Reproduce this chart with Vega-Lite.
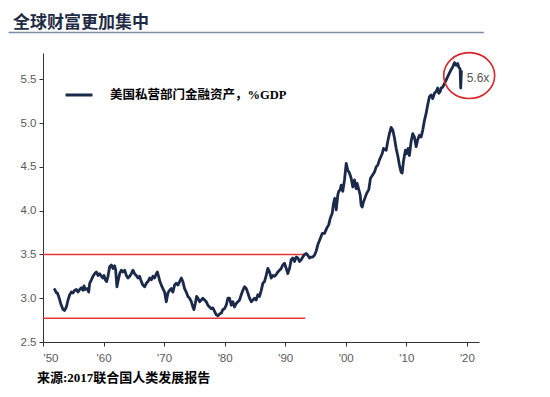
{
  "$schema": "https://vega.github.io/schema/vega-lite/v6.json",
  "width": 436,
  "height": 289,
  "autosize": {"type": "none"},
  "padding": {"left": 43, "top": 53, "right": 71, "bottom": 55},
  "background": "white",
  "title": {
    "text": "全球财富更加集中",
    "anchor": "start",
    "frame": "group",
    "dx": -30,
    "offset": 0,
    "font": "Noto Sans CJK SC",
    "fontSize": 17,
    "fontWeight": "bold",
    "color": "#1f2b45"
  },
  "config": {
    "view": {"stroke": null},
    "axis": {
      "grid": false,
      "title": null,
      "domainColor": "#333333",
      "tickColor": "#333333",
      "domainWidth": 1,
      "tickWidth": 1,
      "tickSize": 4,
      "labelFont": "Liberation Sans",
      "labelFontSize": 11.5,
      "labelColor": "#595959",
      "labelOverlap": false
    },
    "legend": {
      "orient": "none",
      "legendX": 21,
      "legendY": 27,
      "padding": 0,
      "symbolType": "stroke",
      "symbolStrokeWidth": 3,
      "symbolSize": 729,
      "labelOffset": 16,
      "labelFont": "Liberation Serif, Noto Sans CJK SC",
      "labelFontSize": 12.5,
      "labelFontWeight": "bold",
      "labelColor": "#000000",
      "labelLimit": 400,
      "title": null
    }
  },
  "layer": [
    {
      "data": {"values": [{"note": "title underline"}]},
      "mark": {"type": "rule", "color": "#7d8da5", "strokeWidth": 1.5},
      "encoding": {
        "x": {"datum": 1944.3, "type": "quantitative"},
        "x2": {"datum": 2022.8},
        "y": {"datum": 6.035, "type": "quantitative"}
      }
    },
    {
      "data": {"values": [
        {"level": 3.5, "start": 1950, "end": 1993.5},
        {"level": 2.77, "start": 1950, "end": 1993.3}
      ]},
      "mark": {"type": "rule", "color": "#e5383b", "strokeWidth": 1.5},
      "encoding": {
        "x": {"field": "start", "type": "quantitative"},
        "x2": {"field": "end"},
        "y": {"field": "level", "type": "quantitative"}
      }
    },
    {
      "data": {"values": [
        {"t":1951.93,"v":3.10},{"t":1952.21,"v":3.06},{"t":1952.38,"v":3.06},{"t":1952.59,"v":3.02},{"t":1952.92,"v":2.94},
        {"t":1953.30,"v":2.87},{"t":1953.58,"v":2.86},{"t":1953.86,"v":2.90},{"t":1954.13,"v":2.98},{"t":1954.41,"v":3.04},
        {"t":1954.69,"v":3.07},{"t":1954.95,"v":3.06},{"t":1955.23,"v":3.09},{"t":1955.51,"v":3.10},{"t":1955.78,"v":3.07},
        {"t":1956.06,"v":3.10},{"t":1956.34,"v":3.12},{"t":1956.60,"v":3.09},{"t":1956.77,"v":3.14},{"t":1957.00,"v":3.10},
        {"t":1957.33,"v":3.11},{"t":1957.54,"v":3.07},{"t":1957.71,"v":3.17},{"t":1957.99,"v":3.21},{"t":1958.25,"v":3.25},
        {"t":1958.53,"v":3.28},{"t":1958.81,"v":3.30},{"t":1959.08,"v":3.26},{"t":1959.36,"v":3.28},{"t":1959.64,"v":3.25},
        {"t":1959.90,"v":3.23},{"t":1960.07,"v":3.26},{"t":1960.30,"v":3.21},{"t":1960.51,"v":3.19},{"t":1960.73,"v":3.25},
        {"t":1961.01,"v":3.36},{"t":1961.29,"v":3.38},{"t":1961.55,"v":3.34},{"t":1961.83,"v":3.37},{"t":1962.00,"v":3.32},
        {"t":1962.21,"v":3.13},{"t":1962.38,"v":3.19},{"t":1962.66,"v":3.28},{"t":1962.94,"v":3.32},{"t":1963.20,"v":3.30},
        {"t":1963.48,"v":3.32},{"t":1963.76,"v":3.26},{"t":1964.03,"v":3.23},{"t":1964.31,"v":3.25},{"t":1964.59,"v":3.28},
        {"t":1964.85,"v":3.32},{"t":1965.13,"v":3.28},{"t":1965.41,"v":3.26},{"t":1965.68,"v":3.23},{"t":1965.96,"v":3.25},
        {"t":1966.24,"v":3.19},{"t":1966.50,"v":3.15},{"t":1966.78,"v":3.13},{"t":1967.06,"v":3.17},{"t":1967.33,"v":3.19},
        {"t":1967.61,"v":3.23},{"t":1967.89,"v":3.21},{"t":1968.15,"v":3.25},{"t":1968.43,"v":3.23},{"t":1968.71,"v":3.28},
        {"t":1968.88,"v":3.30},{"t":1969.09,"v":3.25},{"t":1969.31,"v":3.19},{"t":1969.54,"v":3.15},{"t":1969.80,"v":3.11},
        {"t":1970.08,"v":3.07},{"t":1970.36,"v":2.96},{"t":1970.63,"v":3.06},{"t":1970.91,"v":3.09},{"t":1971.19,"v":3.11},
        {"t":1971.45,"v":3.07},{"t":1971.73,"v":3.15},{"t":1972.01,"v":3.17},{"t":1972.28,"v":3.15},{"t":1972.56,"v":3.19},
        {"t":1972.84,"v":3.23},{"t":1973.10,"v":3.19},{"t":1973.38,"v":3.11},{"t":1973.66,"v":3.07},{"t":1973.93,"v":3.02},
        {"t":1974.21,"v":3.00},{"t":1974.49,"v":2.96},{"t":1974.75,"v":2.90},{"t":1974.92,"v":2.87},{"t":1975.15,"v":2.94},
        {"t":1975.36,"v":3.02},{"t":1975.58,"v":3.00},{"t":1975.86,"v":2.96},{"t":1976.14,"v":2.98},{"t":1976.40,"v":3.00},
        {"t":1976.68,"v":2.98},{"t":1976.96,"v":2.96},{"t":1977.23,"v":2.92},{"t":1977.51,"v":2.90},{"t":1977.79,"v":2.88},
        {"t":1978.05,"v":2.89},{"t":1978.33,"v":2.85},{"t":1978.61,"v":2.81},{"t":1978.88,"v":2.80},{"t":1979.16,"v":2.82},
        {"t":1979.44,"v":2.83},{"t":1979.70,"v":2.87},{"t":1979.98,"v":2.88},{"t":1980.26,"v":2.92},{"t":1980.53,"v":3.00},
        {"t":1980.81,"v":3.00},{"t":1981.09,"v":2.92},{"t":1981.35,"v":2.96},{"t":1981.63,"v":2.90},{"t":1981.91,"v":2.94},
        {"t":1982.18,"v":2.96},{"t":1982.46,"v":2.98},{"t":1982.74,"v":3.04},{"t":1983.00,"v":3.09},{"t":1983.28,"v":3.13},
        {"t":1983.56,"v":3.11},{"t":1983.83,"v":3.06},{"t":1984.11,"v":3.00},{"t":1984.39,"v":2.96},{"t":1984.65,"v":2.98},
        {"t":1984.93,"v":3.00},{"t":1985.21,"v":2.98},{"t":1985.48,"v":3.04},{"t":1985.76,"v":3.02},{"t":1986.04,"v":3.09},
        {"t":1986.30,"v":3.17},{"t":1986.58,"v":3.19},{"t":1986.86,"v":3.26},{"t":1987.13,"v":3.34},{"t":1987.41,"v":3.30},
        {"t":1987.69,"v":3.23},{"t":1987.95,"v":3.26},{"t":1988.23,"v":3.25},{"t":1988.51,"v":3.27},{"t":1988.78,"v":3.30},
        {"t":1989.06,"v":3.32},{"t":1989.34,"v":3.34},{"t":1989.60,"v":3.38},{"t":1989.88,"v":3.40},{"t":1990.17,"v":3.34},
        {"t":1990.43,"v":3.28},{"t":1990.71,"v":3.34},{"t":1990.99,"v":3.44},{"t":1991.25,"v":3.46},{"t":1991.53,"v":3.42},
        {"t":1991.82,"v":3.47},{"t":1992.08,"v":3.46},{"t":1992.36,"v":3.42},{"t":1992.64,"v":3.44},{"t":1992.90,"v":3.47},
        {"t":1993.18,"v":3.50},{"t":1993.47,"v":3.51},{"t":1993.73,"v":3.49},{"t":1994.01,"v":3.46},{"t":1994.29,"v":3.47},
        {"t":1994.55,"v":3.47},{"t":1994.83,"v":3.49},{"t":1995.12,"v":3.54},{"t":1995.38,"v":3.61},{"t":1995.66,"v":3.66},
        {"t":1996.11,"v":3.74},{"t":1996.49,"v":3.74},{"t":1996.86,"v":3.80},{"t":1997.19,"v":3.84},{"t":1997.43,"v":3.91},
        {"t":1997.76,"v":3.97},{"t":1997.97,"v":4.08},{"t":1998.18,"v":4.14},{"t":1998.42,"v":4.01},{"t":1998.68,"v":4.18},
        {"t":1998.84,"v":4.22},{"t":1999.08,"v":4.24},{"t":1999.24,"v":4.29},{"t":1999.50,"v":4.22},{"t":1999.79,"v":4.35},
        {"t":2000.07,"v":4.54},{"t":2000.33,"v":4.46},{"t":2000.61,"v":4.43},{"t":2000.89,"v":4.37},{"t":2001.16,"v":4.27},
        {"t":2001.44,"v":4.35},{"t":2001.72,"v":4.25},{"t":2001.88,"v":4.31},{"t":2002.15,"v":4.24},{"t":2002.38,"v":4.18},
        {"t":2002.54,"v":4.06},{"t":2002.71,"v":4.04},{"t":2002.92,"v":4.10},{"t":2003.25,"v":4.16},{"t":2003.47,"v":4.20},
        {"t":2003.80,"v":4.24},{"t":2004.08,"v":4.37},{"t":2004.46,"v":4.41},{"t":2004.74,"v":4.44},{"t":2005.02,"v":4.50},
        {"t":2005.28,"v":4.52},{"t":2005.56,"v":4.58},{"t":2006.01,"v":4.65},{"t":2006.22,"v":4.71},{"t":2006.67,"v":4.69},
        {"t":2006.93,"v":4.79},{"t":2007.21,"v":4.88},{"t":2007.49,"v":4.95},{"t":2007.76,"v":4.92},{"t":2008.04,"v":4.83},
        {"t":2008.32,"v":4.71},{"t":2008.58,"v":4.63},{"t":2008.86,"v":4.52},{"t":2009.14,"v":4.44},{"t":2009.31,"v":4.43},
        {"t":2009.52,"v":4.56},{"t":2009.69,"v":4.63},{"t":2009.85,"v":4.69},{"t":2010.07,"v":4.65},{"t":2010.30,"v":4.71},
        {"t":2010.51,"v":4.63},{"t":2010.79,"v":4.79},{"t":2011.06,"v":4.88},{"t":2011.34,"v":4.84},{"t":2011.62,"v":4.73},
        {"t":2011.88,"v":4.81},{"t":2012.16,"v":4.86},{"t":2012.44,"v":4.84},{"t":2012.71,"v":4.92},{"t":2012.99,"v":5.03},
        {"t":2013.27,"v":5.11},{"t":2013.53,"v":5.21},{"t":2013.81,"v":5.30},{"t":2014.09,"v":5.32},{"t":2014.36,"v":5.28},
        {"t":2014.64,"v":5.34},{"t":2014.92,"v":5.36},{"t":2015.18,"v":5.40},{"t":2015.35,"v":5.34},{"t":2015.58,"v":5.36},
        {"t":2015.74,"v":5.40},{"t":2016.01,"v":5.41},{"t":2016.29,"v":5.45},{"t":2016.57,"v":5.49},{"t":2016.83,"v":5.53},
        {"t":2017.11,"v":5.57},{"t":2017.39,"v":5.61},{"t":2017.66,"v":5.64},{"t":2017.94,"v":5.69},{"t":2018.22,"v":5.66},
        {"t":2018.48,"v":5.68},{"t":2018.65,"v":5.64},{"t":2018.88,"v":5.62},{"t":2018.98,"v":5.40},{"t":2019.09,"v":5.59}
      ]},
      "mark": {"type": "line", "strokeWidth": 2.8, "strokeJoin": "round", "strokeCap": "round"},
      "encoding": {
        "x": {
          "field": "t",
          "type": "quantitative",
          "scale": {"domain": [1950, 2022], "nice": false, "zero": false},
          "axis": {
            "values": [1950, 1955, 1960, 1965, 1970, 1975, 1980, 1985, 1990, 1995, 2000, 2005, 2010, 2015, 2020],
            "labelExpr": "\"'\" + substring(toString(datum.value), 2)",
            "labelPadding": 6
          }
        },
        "y": {
          "field": "v",
          "type": "quantitative",
          "scale": {"domain": [2.5, 5.8], "nice": false, "zero": false},
          "axis": {
            "values": [2.5, 3, 3.5, 4, 4.5, 5, 5.5],
            "format": ".1f",
            "labelPadding": 3
          }
        },
        "color": {
          "datum": "美国私营部门金融资产，%GDP",
          "type": "nominal",
          "scale": {"range": ["#1b2a4a"]}
        }
      }
    },
    {
      "data": {"values": [{"note": "highlight"}]},
      "mark": {
        "type": "point",
        "shape": "M -1 0 A 1 0.9 0 1 1 1 0 A 1 0.9 0 1 1 -1 0 Z",
        "size": 2601,
        "filled": false,
        "stroke": "#d8262b",
        "strokeWidth": 1.6,
        "opacity": 1
      },
      "encoding": {
        "x": {"datum": 2020.38, "type": "quantitative"},
        "y": {"datum": 5.542, "type": "quantitative"}
      }
    },
    {
      "data": {"values": [{"note": "label"}]},
      "mark": {"type": "text", "text": "5.6x", "align": "left", "baseline": "middle", "font": "Liberation Sans", "fontSize": 12, "color": "#555555"},
      "encoding": {
        "x": {"datum": 2019.96, "type": "quantitative"},
        "y": {"datum": 5.514, "type": "quantitative"}
      }
    },
    {
      "data": {"values": [{"note": "source"}]},
      "mark": {"type": "text", "text": "来源:2017联合国人类发展报告", "align": "left", "baseline": "alphabetic", "font": "Liberation Serif, Noto Sans CJK SC", "fontSize": 13, "fontWeight": "bold", "color": "#000000"},
      "encoding": {
        "x": {"datum": 1949, "type": "quantitative"},
        "y": {"datum": 2.043, "type": "quantitative"}
      }
    }
  ]
}
